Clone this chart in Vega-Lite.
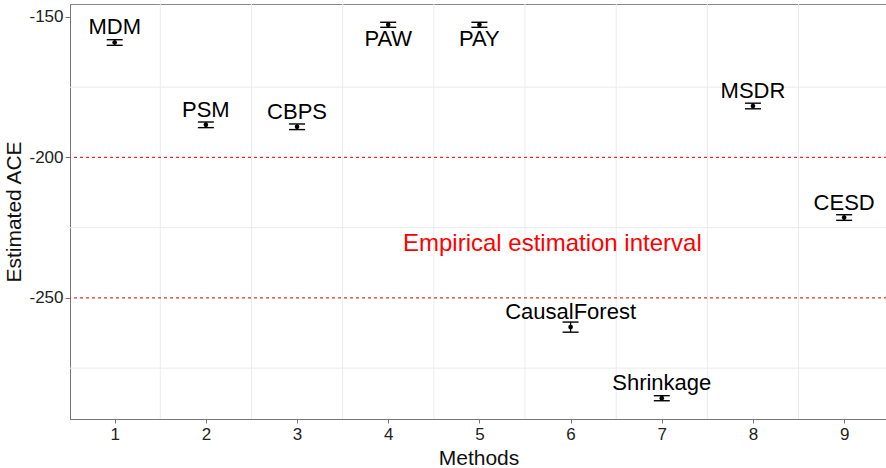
{
  "$schema": "https://vega.github.io/schema/vega-lite/v6.json",
  "width": 817,
  "height": 415,
  "autosize": {"type": "none"},
  "padding": {"left": 70, "top": 4, "right": 0, "bottom": 49},
  "background": "white",
  "config": {
    "view": {"stroke": "#888888", "strokeWidth": 1},
    "font": "Liberation Sans"
  },
  "datasets": {
    "est": [
      {"method": 1, "name": "MDM", "ace": -159.1, "lo": -160.1, "hi": -158.1},
      {"method": 2, "name": "PSM", "ace": -188.4, "lo": -189.4, "hi": -187.4},
      {"method": 3, "name": "CBPS", "ace": -189.1, "lo": -190.1, "hi": -188.1},
      {"method": 4, "name": "PAW", "ace": -152.8, "lo": -153.7, "hi": -151.9},
      {"method": 5, "name": "PAY", "ace": -152.8, "lo": -153.7, "hi": -151.9},
      {"method": 6, "name": "CausalForest", "ace": -260.4, "lo": -262.2, "hi": -258.6},
      {"method": 7, "name": "Shrinkage", "ace": -285.7, "lo": -286.6, "hi": -284.8},
      {"method": 8, "name": "MSDR", "ace": -181.7, "lo": -182.7, "hi": -180.7},
      {"method": 9, "name": "CESD", "ace": -221.4, "lo": -222.4, "hi": -220.4}
    ],
    "vgrid": [{"x": 1.5}, {"x": 2.5}, {"x": 3.5}, {"x": 4.5}, {"x": 5.5}, {"x": 6.5}, {"x": 7.5}, {"x": 8.5}],
    "hgrid": [{"y": -175}, {"y": -225}, {"y": -275}],
    "ref": [{"y": -200}, {"y": -250}],
    "note": [{"x": 5.8, "y": -230.8, "text": "Empirical estimation interval"}]
  },
  "layer": [
    {
      "data": {"name": "vgrid"},
      "mark": {"type": "rule", "color": "#ebebeb", "strokeWidth": 1},
      "encoding": {
        "x": {
          "field": "x", "type": "quantitative",
          "scale": {"domain": [0.51, 9.47], "nice": false, "zero": false},
          "axis": {
            "title": "Methods", "values": [1, 2, 3, 4, 5, 6, 7, 8, 9], "grid": false, "format": "d",
            "domainColor": "#777777", "tickColor": "#777777", "tickSize": 4,
            "labelFontSize": 17, "labelColor": "#222222", "labelPadding": 3, "labelFlush": false,
            "titleFontSize": 21, "titleFontWeight": "normal", "titleColor": "#111111", "titlePadding": 5
          }
        }
      }
    },
    {
      "data": {"name": "hgrid"},
      "mark": {"type": "rule", "color": "#ebebeb", "strokeWidth": 1},
      "encoding": {
        "y": {
          "field": "y", "type": "quantitative",
          "scale": {"domain": [-293.1, -145.4], "nice": false, "zero": false},
          "axis": {
            "title": "Estimated ACE", "values": [-150, -200, -250], "grid": false,
            "labelExpr": "toString(datum.value)",
            "domainColor": "#777777", "tickColor": "#777777", "tickSize": 5,
            "labelFontSize": 17, "labelColor": "#222222", "labelPadding": 2,
            "titleFontSize": 21, "titleFontWeight": "normal", "titleColor": "#111111", "titlePadding": 4
          }
        }
      }
    },
    {
      "data": {"name": "ref"},
      "mark": {"type": "rule", "color": "#e8302c", "strokeWidth": 1.3, "strokeDash": [3, 3]},
      "encoding": {
        "y": {"field": "y", "type": "quantitative", "scale": {"domain": [-293.1, -145.4], "nice": false, "zero": false}}
      }
    },
    {
      "data": {"name": "note"},
      "mark": {"type": "text", "color": "#ff0000", "fontSize": 24, "align": "center", "baseline": "middle"},
      "encoding": {
        "x": {"field": "x", "type": "quantitative", "scale": {"domain": [0.51, 9.47], "nice": false, "zero": false}},
        "y": {"field": "y", "type": "quantitative", "scale": {"domain": [-293.1, -145.4], "nice": false, "zero": false}},
        "text": {"field": "text"}
      }
    },
    {
      "data": {"name": "est"},
      "mark": {"type": "rule", "color": "black", "strokeWidth": 1.3},
      "encoding": {
        "x": {"field": "method", "type": "quantitative", "scale": {"domain": [0.51, 9.47], "nice": false, "zero": false}},
        "y": {"field": "lo", "type": "quantitative", "scale": {"domain": [-293.1, -145.4], "nice": false, "zero": false}},
        "y2": {"field": "hi"}
      }
    },
    {
      "data": {"name": "est"},
      "mark": {"type": "tick", "orient": "horizontal", "color": "black", "size": 16, "thickness": 1.4, "opacity": 1},
      "encoding": {
        "x": {"field": "method", "type": "quantitative", "scale": {"domain": [0.51, 9.47], "nice": false, "zero": false}},
        "y": {"field": "lo", "type": "quantitative", "scale": {"domain": [-293.1, -145.4], "nice": false, "zero": false}}
      }
    },
    {
      "data": {"name": "est"},
      "mark": {"type": "tick", "orient": "horizontal", "color": "black", "size": 16, "thickness": 1.4, "opacity": 1},
      "encoding": {
        "x": {"field": "method", "type": "quantitative", "scale": {"domain": [0.51, 9.47], "nice": false, "zero": false}},
        "y": {"field": "hi", "type": "quantitative", "scale": {"domain": [-293.1, -145.4], "nice": false, "zero": false}}
      }
    },
    {
      "data": {"name": "est"},
      "mark": {"type": "circle", "color": "black", "size": 22, "opacity": 1},
      "encoding": {
        "x": {"field": "method", "type": "quantitative", "scale": {"domain": [0.51, 9.47], "nice": false, "zero": false}},
        "y": {"field": "ace", "type": "quantitative", "scale": {"domain": [-293.1, -145.4], "nice": false, "zero": false}}
      }
    },
    {
      "data": {"name": "est"},
      "transform": [{"filter": "datum.method != 4 && datum.method != 5"}],
      "mark": {"type": "text", "color": "black", "fontSize": 22, "align": "center", "baseline": "middle", "dy": -15},
      "encoding": {
        "x": {"field": "method", "type": "quantitative", "scale": {"domain": [0.51, 9.47], "nice": false, "zero": false}},
        "y": {"field": "ace", "type": "quantitative", "scale": {"domain": [-293.1, -145.4], "nice": false, "zero": false}},
        "text": {"field": "name"}
      }
    },
    {
      "data": {"name": "est"},
      "transform": [{"filter": "datum.method == 4 || datum.method == 5"}],
      "mark": {"type": "text", "color": "black", "fontSize": 22, "align": "center", "baseline": "middle", "dy": 14},
      "encoding": {
        "x": {"field": "method", "type": "quantitative", "scale": {"domain": [0.51, 9.47], "nice": false, "zero": false}},
        "y": {"field": "ace", "type": "quantitative", "scale": {"domain": [-293.1, -145.4], "nice": false, "zero": false}},
        "text": {"field": "name"}
      }
    }
  ]
}
